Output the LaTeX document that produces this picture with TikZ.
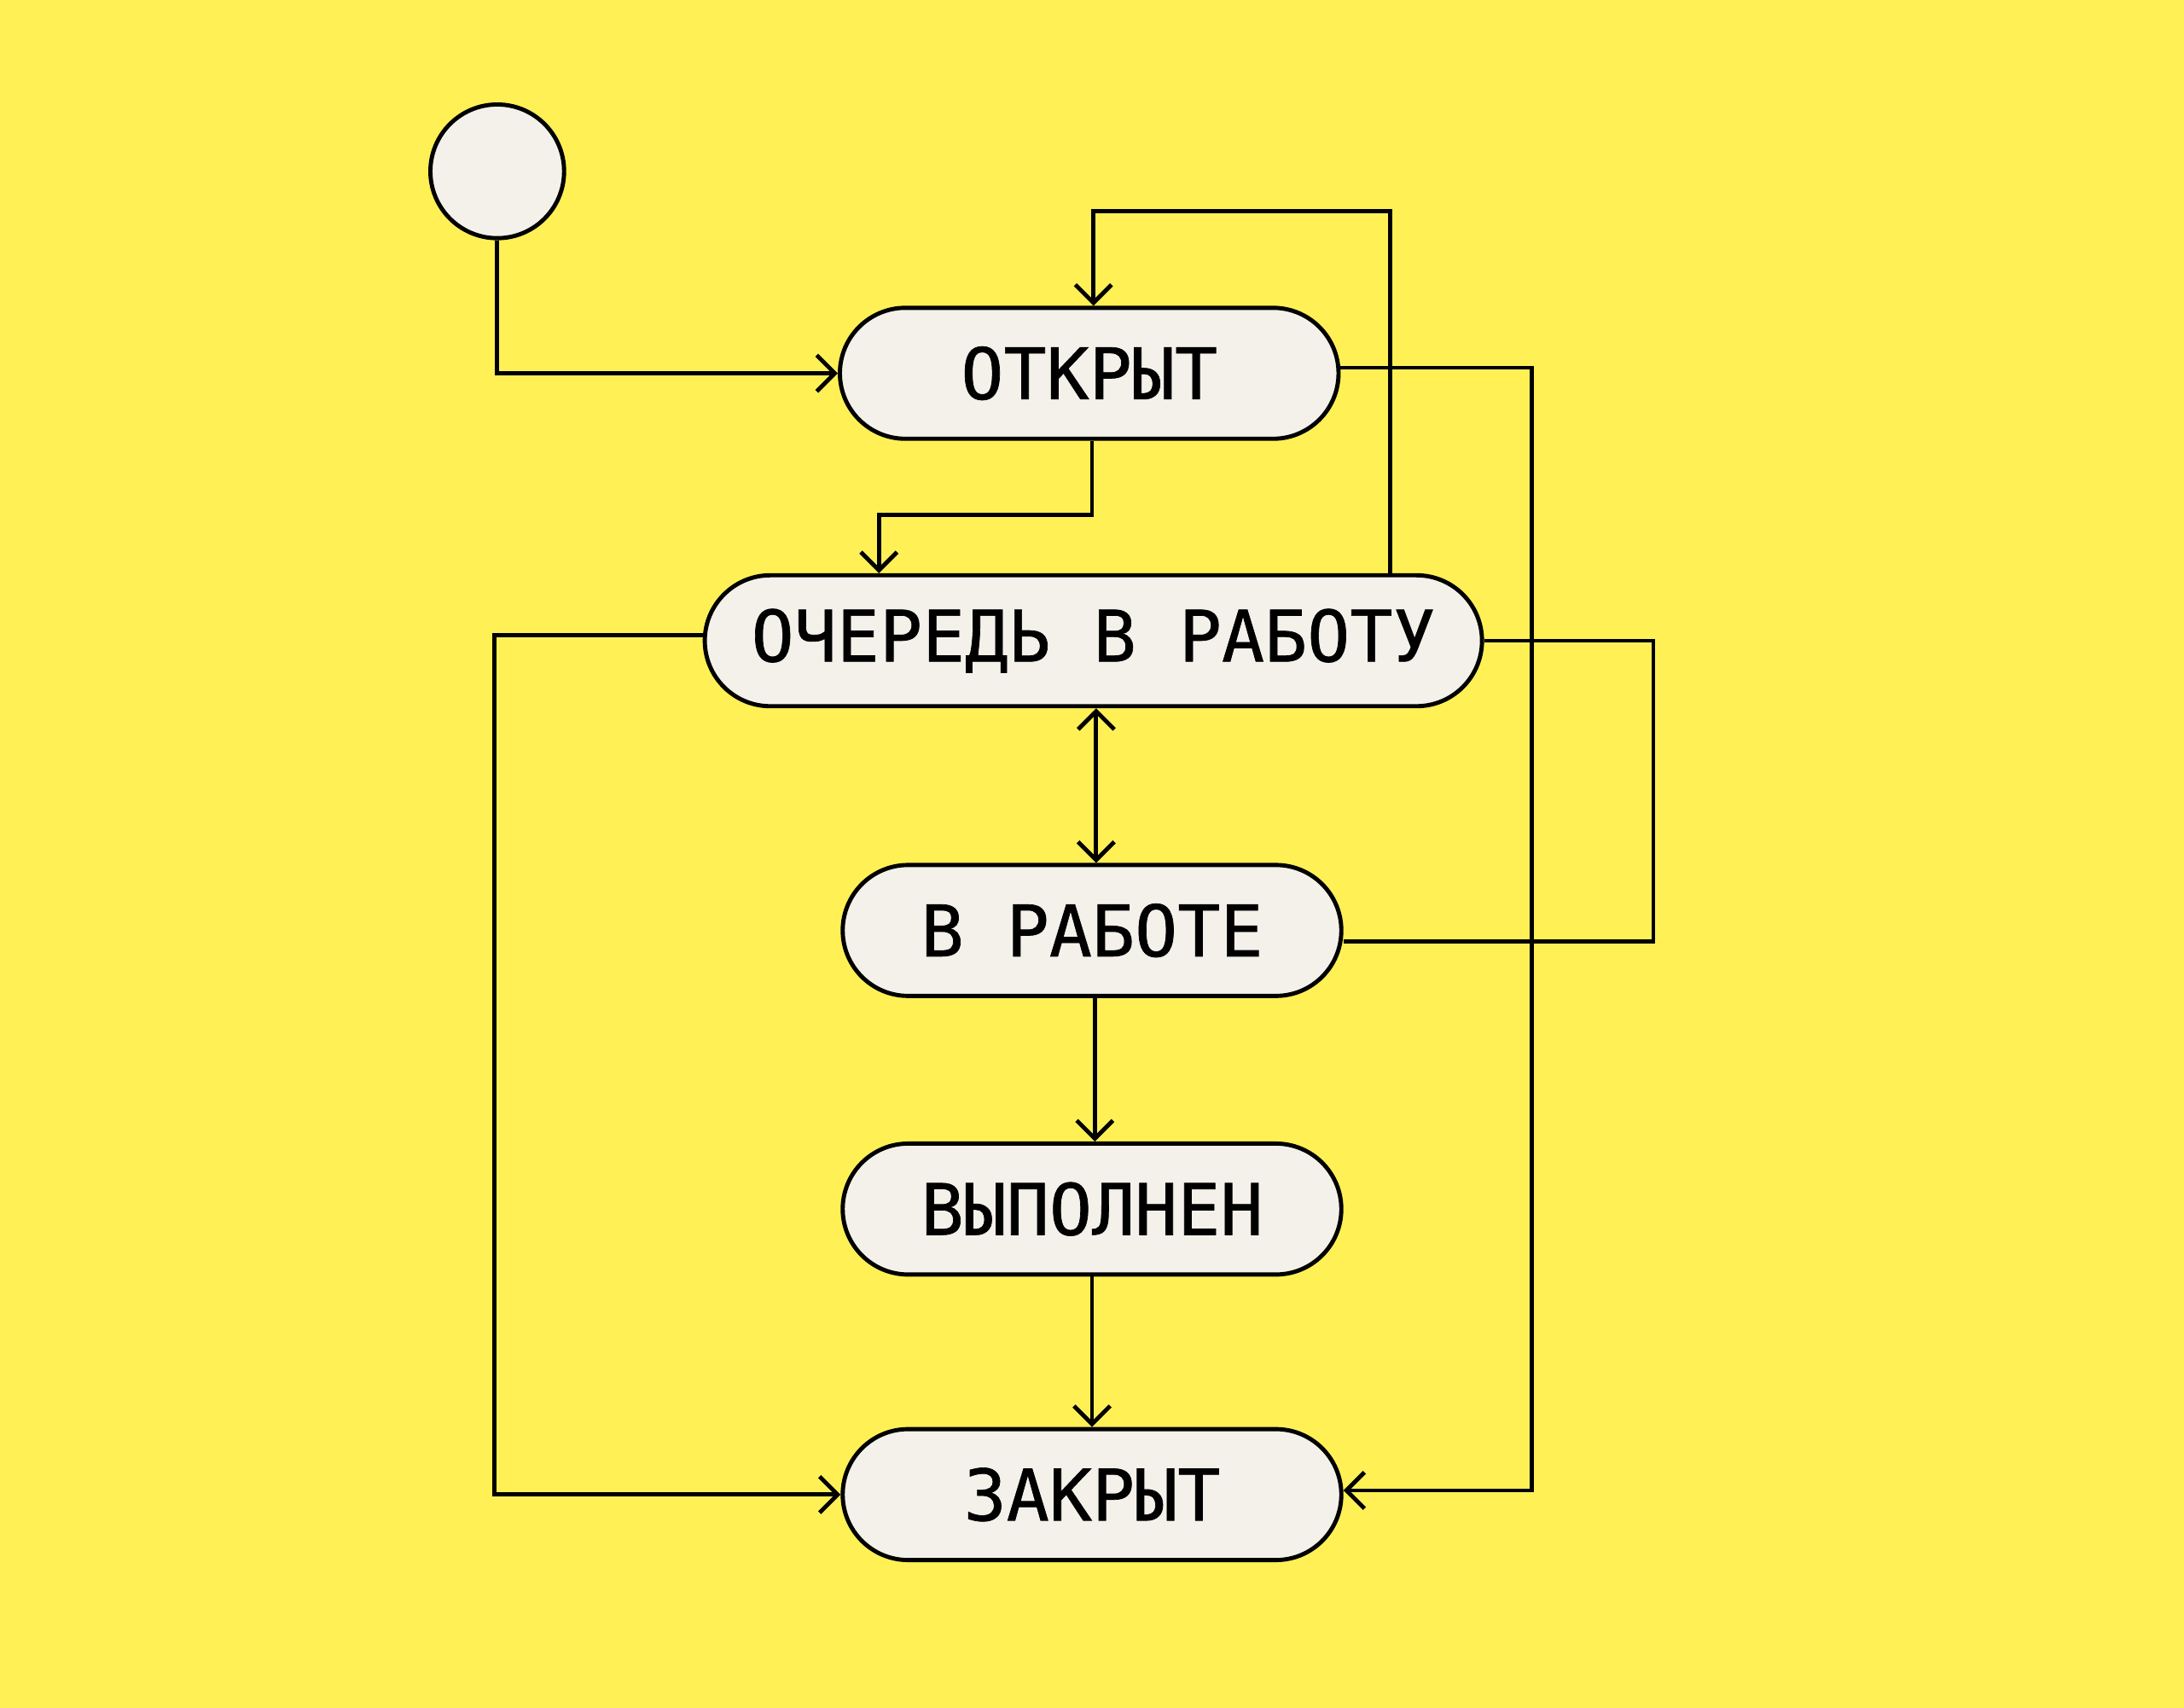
\documentclass[tikz,border=0pt]{standalone}
\usepackage{fontspec}
\newfontfamily\lab{DejaVu Sans Mono}[FakeBold=0.8]
\usetikzlibrary{arrows.meta}
\definecolor{bg}{HTML}{FFF056}
\definecolor{nf}{HTML}{F4F1EA}
\begin{document}
\begin{tikzpicture}[x=0.5pt,y=-0.5pt,
  st/.style={draw=black,line width=1.5pt,fill=nf,rounded corners=23.5pt,minimum height=47pt,inner sep=0pt,font=\lab\fontsize{25.5}{30}\selectfont},
  ln/.style={line width=1.5pt},
  ar/.style={ln,-{Straight Barb[length=6.5pt,width=13pt,line width=1.5pt]}}]
\fill[bg] (0,0) rectangle (1568,1226);
\node[draw=black,line width=1.5pt,fill=nf,circle,minimum size=48pt,inner sep=0pt] (s) at (357,123) {};
\node[st,minimum width=179pt] (o) at (782,268) {ОТКРЫТ};
\node[st,minimum width=279pt] (q) at (785,460) {ОЧЕРЕДЬ В РАБОТУ};
\node[st,minimum width=179pt] (w) at (784,668) {В РАБОТЕ};
\node[st,minimum width=179pt] (d) at (784,868) {ВЫПОЛНЕН};
\node[st,minimum width=179pt] (z) at (784,1073) {ЗАКРЫТ};
\draw[ar] (s.south) |- (o.west);
\draw[ar] ([xshift=106.5pt]q.north) -- ++(0,-260) -| ([xshift=1.5pt]o.north);
\draw[ar] ([xshift=1pt]o.south) -- ++(0,53) -| ([xshift=-77pt]q.north);
\draw[ar] ([yshift=2pt]o.east) -- (1100,264) |- ([yshift=1.5pt]z.east);
\draw[ar] ([yshift=2pt]q.west) -- (355,456) |- (z.west);
\draw[ln,{Straight Barb[length=6.5pt,width=13pt,line width=1.5pt]}-{Straight Barb[length=6.5pt,width=13pt,line width=1.5pt]}] ([xshift=1pt]q.south) -- ([xshift=1.5pt]w.north);
\draw[ln] ([yshift=-4pt]w.east) -- (1187,676) |- (q.east);
\draw[ar] ([xshift=1pt]w.south) -- ([xshift=1pt]d.north);
\draw[ar] (d.south) -- (z.north);
\end{tikzpicture}
\end{document}
